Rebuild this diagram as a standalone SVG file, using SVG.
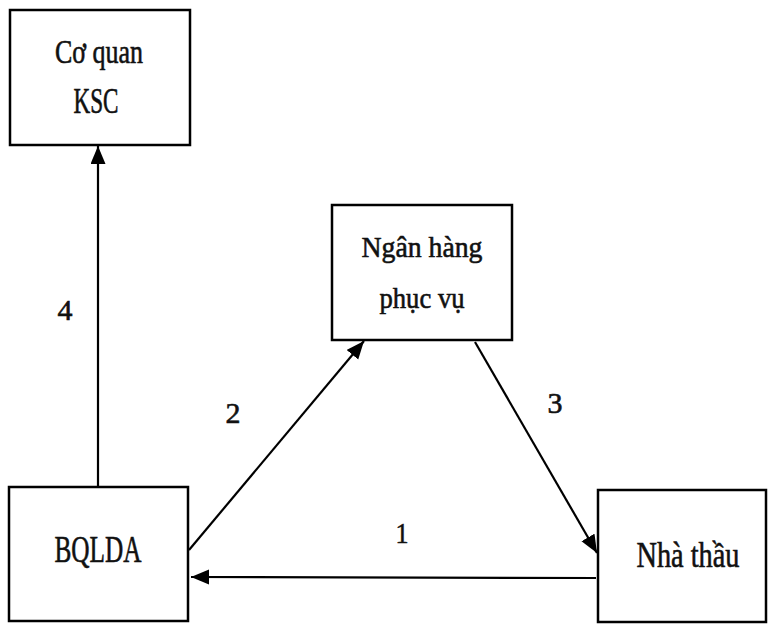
<svg xmlns="http://www.w3.org/2000/svg" width="770" height="625" viewBox="0 0 770 625">
<defs>
<style>
.box{fill:#fff;stroke:#000;stroke-width:2.5}
.lbl{font-family:"Liberation Serif","DejaVu Serif",serif;fill:#111;stroke:#111;stroke-width:0.6;text-anchor:middle}
.conn{stroke:#000;stroke-width:2.2;fill:none}
</style>
<marker id="ah" markerUnits="userSpaceOnUse" markerWidth="20" markerHeight="16" refX="18" refY="7.5" orient="auto">
<path d="M0,0 L18,7.5 L0,15 z" fill="#000"/>
</marker>
</defs>
<rect width="770" height="625" fill="#fff"/>
<g id="connectors">
<line class="conn" x1="98" y1="487" x2="98" y2="146" marker-end="url(#ah)"/>
<line class="conn" x1="189" y1="550" x2="364" y2="341" marker-end="url(#ah)"/>
<line class="conn" x1="475" y1="342" x2="597" y2="553" marker-end="url(#ah)"/>
<line class="conn" x1="596" y1="578" x2="191" y2="577" marker-end="url(#ah)"/>
<text class="lbl" x="65" y="320" font-size="30" textLength="15" lengthAdjust="spacingAndGlyphs">4</text>
<text class="lbl" x="233" y="423" font-size="30" textLength="15" lengthAdjust="spacingAndGlyphs">2</text>
<text class="lbl" x="555" y="413" font-size="30" textLength="15" lengthAdjust="spacingAndGlyphs">3</text>
<text class="lbl" x="402" y="543" font-size="30" textLength="13" lengthAdjust="spacingAndGlyphs">1</text>
</g>
<g id="node-ksc">
<rect class="box" x="10" y="10" width="180" height="135"/>
<text class="lbl" x="99" y="63" font-size="34" textLength="88" lengthAdjust="spacingAndGlyphs">Cơ quan</text>
<text class="lbl" x="96" y="113" font-size="36" textLength="45" lengthAdjust="spacingAndGlyphs">KSC</text>
</g>
<g id="node-nganhang">
<rect class="box" x="332" y="205" width="180" height="135"/>
<text class="lbl" x="422" y="257" font-size="30" textLength="121" lengthAdjust="spacingAndGlyphs">Ngân hàng</text>
<text class="lbl" x="422" y="308" font-size="30" textLength="85" lengthAdjust="spacingAndGlyphs">phục vụ</text>
</g>
<g id="node-bqlda">
<rect class="box" x="9" y="487" width="179" height="134"/>
<text class="lbl" x="98" y="562" font-size="37" textLength="87" lengthAdjust="spacingAndGlyphs">BQLDA</text>
</g>
<g id="node-nhathau">
<rect class="box" x="598" y="490" width="168" height="132"/>
<text class="lbl" x="688" y="567" font-size="36" textLength="103" lengthAdjust="spacingAndGlyphs">Nhà thầu</text>
</g>
</svg>
